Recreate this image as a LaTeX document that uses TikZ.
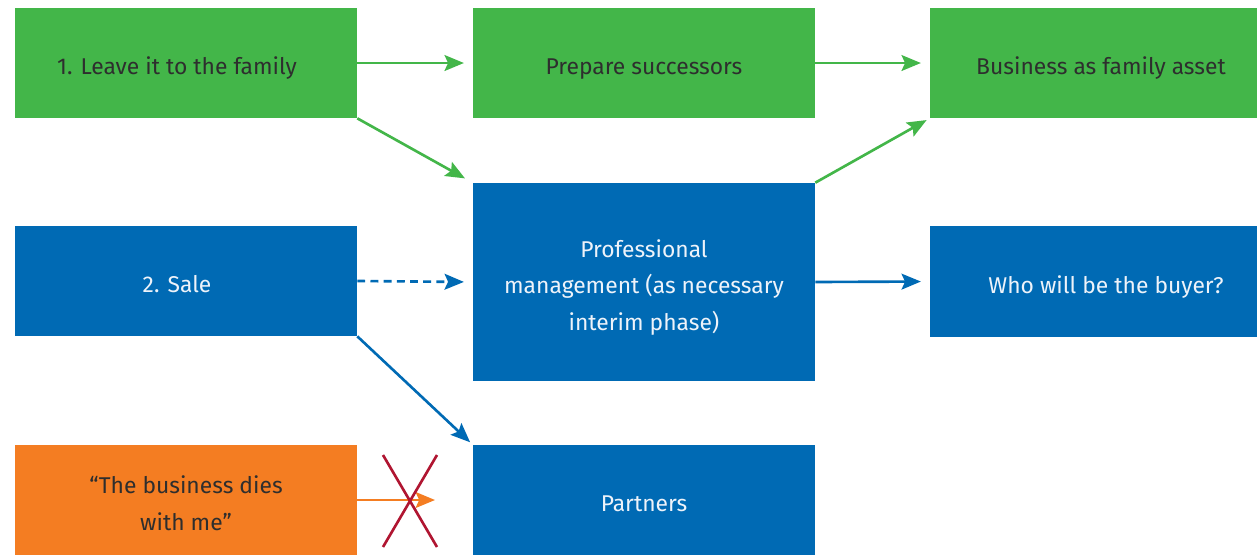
\documentclass[tikz,border=0pt]{standalone}
\usepackage{fontspec}
\setmainfont{Fira Sans}
\usepackage{tikz}
\usetikzlibrary{arrows.meta, positioning}
\definecolor{leafgreen}{HTML}{43B649}
\definecolor{deepblue}{HTML}{006AB4}
\definecolor{sunorange}{HTML}{F47D22}
\definecolor{crossred}{HTML}{B01531}
\definecolor{inkdark}{HTML}{2E2E2E}
\definecolor{paleblue}{HTML}{EEF3FA}

% box text, centred lines set a little below the middle
\newcommand{\boxlines}[1]{\raisebox{-2.6pt}[\height][\depth]{\begin{tabular}{@{}c@{}}#1\end{tabular}}}

\tikzset{
  box/.style={rectangle, inner sep=0pt, minimum width=6.84cm, minimum height=2.2cm,
    font=\fontsize{13}{20.7}\selectfont},
  greenbox/.style={box, fill=leafgreen, text=inkdark},
  bluebox/.style={box, fill=deepblue, text=paleblue},
  orangebox/.style={box, fill=sunorange, text=inkdark},
  tip/.style={-{Stealth[length=11pt, width=9pt, inset=2pt]}, line width=1.5pt, shorten >=5pt},
  greenarrow/.style={tip, draw=leafgreen},
  bluearrow/.style={tip, draw=deepblue},
}

\begin{document}
\begin{tikzpicture}[x=0.02cm, y=-0.02cm]
    \useasboundingbox (0,0) rectangle (1259,555);
    % left column
    \node[greenbox] (family) at (186,63) {\boxlines{1. Leave it to the family\hspace*{0.36cm}}};
    \node[bluebox] (sale) at (186,281) {\boxlines{2. Sale\hspace*{0.36cm}}};
    \node[orangebox] (dies) at (186,500) {\boxlines{``The business dies\\with me''}};
    % middle column
    \node[greenbox] (prepare) at (644,63) {\boxlines{Prepare successors}};
    \node[bluebox, minimum height=3.96cm] (profmgmt) at (644,282) {\boxlines{Professional\\management (as necessary\\interim phase)}};
    \node[bluebox] (partners) at (644,500) {\boxlines{Partners}};
    % right column
    \node[greenbox, minimum width=6.54cm] (asset) at (1093.5,63) {\boxlines{\hspace*{0.3cm}Business as family asset}};
    \node[bluebox, minimum width=6.54cm, minimum height=2.22cm] (buyer) at (1093.5,281.5) {\boxlines{\hspace*{0.5cm}Who will be the buyer?}};

    % connectors
    \draw[greenarrow] (family.east) -- (prepare.west);
    \draw[greenarrow] (family.south east) -- (profmgmt.north west);
    \draw[greenarrow] (prepare.east) -- (asset.west);
    \draw[greenarrow, shorten >=2pt] (profmgmt.north east) -- (asset.south west);
    \draw[bluearrow, dash pattern=on 4.5pt off 3pt] (sale.east) -- (profmgmt.west);
    \draw[bluearrow] (profmgmt.east) -- (buyer.west);
    \draw[bluearrow, shorten >=2pt] (sale.south east) -- (partners.north west);

    % dead end, crossed out
    \coordinate (deadend) at (435,500);
    \draw[tip, draw=sunorange, shorten >=0pt] (dies.east) -- (deadend);
    \draw[crossred, line width=1.5pt] (383,455) -- (437,547);
    \draw[crossred, line width=1.5pt] (437,455) -- (383,547);
\end{tikzpicture}
\end{document}
